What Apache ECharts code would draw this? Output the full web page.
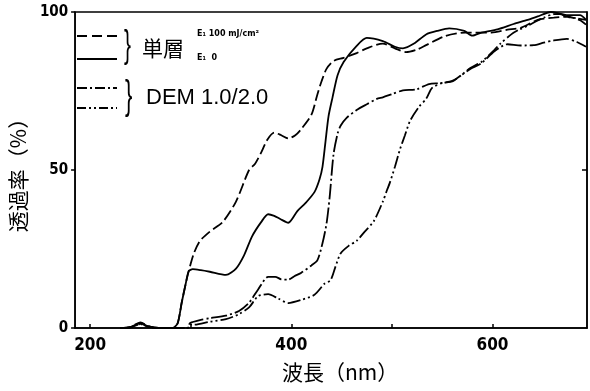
<!DOCTYPE html>
<html>
<head>
<meta charset="utf-8">
<script src="https://cdn.jsdelivr.net/npm/echarts@6/dist/echarts.min.js"></script>
<style>
html,body{margin:0;padding:0;background:#fff;}
#chart{width:590px;height:391px;}
</style>
</head>
<body>
<div id="chart"></div>
<script>
// ---- data (wavelength nm / transmittance %) ----
const xTickValues = [200, 300, 400, 500, 600];
const xLabelValues = [200, 400, 600];
const yTickLabels = [0, 50, 100];

// 単層 E1 100 (dashed)
const nmE100 = [230, 240, 250, 258, 268, 282, 287, 291, 295, 298, 303, 309, 319, 332, 345, 358, 364, 370, 376, 383, 390, 397, 404, 410, 420, 426, 430, 435, 442, 452, 465, 475, 491, 503, 514, 524, 534, 553, 573, 599, 615, 628, 645, 661, 674, 687, 693];
const tE100 = [0, 0.3, 1.8, 0.6, 0, 0, 1.5, 8, 14, 18, 23.5, 27.5, 30.5, 33.6, 40, 50, 52, 55.5, 59.5, 61.8, 61, 60, 61, 63, 67.5, 74, 78, 82, 84.5, 85.5, 87, 88.5, 90, 88.5, 87.3, 88, 89.5, 92.4, 93.5, 93.5, 94.4, 95, 97.5, 98.2, 98.5, 97.4, 96];

// 単層 E1 0 (solid)
const nmE0 = [230, 240, 250, 258, 268, 282, 287, 291, 295, 298, 302, 310, 319, 335, 345, 353, 361, 370, 377, 383, 389, 397, 406, 414, 423, 428, 431, 434, 437, 441, 446, 452, 465, 475, 491, 503, 511, 522, 534, 545, 557, 572, 580, 589, 605, 621, 635, 645, 658, 667, 674, 687, 693];
const tE0 = [0, 0.3, 1.5, 0.5, 0, 0, 1.5, 8, 14, 18, 18.6, 18.3, 17.8, 16.8, 18.8, 23, 29, 33.5, 36, 35.5, 34.5, 33.3, 37, 39.5, 43, 47, 51, 59, 67, 73, 80, 84.2, 89.3, 91.8, 90.8, 89, 88.5, 90, 92.9, 94, 94.8, 94, 92.5, 93.5, 94.5, 96.2, 97.5, 98.6, 100, 99.5, 99, 99, 97.5];

// DEM 1.0 (dash-dot)
const nmDem1 = [230, 240, 250, 258, 268, 297, 299, 302, 310, 319, 335, 348, 358, 367, 377, 384, 390, 397, 403, 410, 420, 426, 431, 435, 438, 442, 446, 449, 455, 465, 475, 485, 491, 500, 511, 524, 537, 548, 560, 569, 578, 589, 602, 615, 628, 641, 651, 661, 674, 684, 693];
const tDem1 = [0, 0.2, 1.2, 0.4, 0, 0, 1.5, 1.9, 2.6, 3.1, 3.9, 5.4, 8, 12.2, 16.2, 16.2, 15.4, 15.3, 16.4, 17.5, 19.8, 21.5, 26.8, 33, 41, 55, 61.5, 64, 66.5, 69, 70.8, 72.5, 73, 74, 75.2, 75.5, 77.2, 77.5, 78.2, 80, 82, 83.8, 87.6, 89.8, 89.4, 89.5, 90.3, 91, 91.5, 90.5, 89];

// DEM 2.0 (dash-dot-dot)
const nmDem2 = [230, 240, 250, 258, 268, 297, 299, 302, 319, 335, 348, 358, 367, 377, 387, 397, 410, 423, 433, 439, 444, 449, 457, 465, 473, 482, 491, 495, 498, 503, 508, 513, 518, 527, 534, 540, 550, 560, 569, 578, 589, 602, 608, 619, 627, 635, 643, 651, 661, 667, 674, 684, 693];
const tDem2 = [0, 0.2, 1.2, 0.4, 0, 0, 1.2, 1, 2, 2.8, 4.4, 6.5, 10.1, 10.7, 9.3, 7.9, 8.9, 10.5, 14, 15.1, 19.5, 23.6, 26, 27.6, 30.5, 33.8, 40, 43.5, 46, 51, 56.5, 61, 65.5, 70, 72.5, 76, 77.5, 78, 80, 82.3, 84.2, 88, 90, 93, 94.5, 95.6, 97, 98.2, 99.3, 99.3, 98.5, 98, 97.5];

function zip(xs, ys) { return xs.map((x, i) => [x, ys[i]]); }

const numFont = "'Liberation Sans Narrow', 'DejaVu Sans Condensed', 'Liberation Sans', sans-serif";
const cjkFont = "'Noto Sans CJK JP', 'Noto Sans CJK SC', sans-serif";

const chart = echarts.init(document.getElementById('chart'), null, {renderer: 'canvas'});

function lineSeries(name, data, type) {
  return {
    name: name,
    type: 'line',
    data: data,
    symbol: 'none',
    smooth: 0.25,
    silent: true,
    lineStyle: {color: '#000', width: 1.8, type: type},
    z: 3
  };
}

const legendX1 = 77, legendX2 = 117;
const option = {
  backgroundColor: '#fff',
  animation: false,
  grid: {left: 66, right: 3, top: 12, bottom: 63, show: true, borderColor: '#000', borderWidth: 1.5, backgroundColor: 'transparent'},
  xAxis: {
    type: 'value', min: 185, max: 694,
    name: '波長（nm）', nameLocation: 'middle', nameGap: 34,
    nameTextStyle: {fontFamily: cjkFont, fontSize: 21, color: '#000', padding: [0, 0, 0, 18]},
    axisLine: {show: true, lineStyle: {color: '#000', width: 1.5}},
    axisTick: {show: true, inside: true, length: 4, customValues: xTickValues, lineStyle: {color: '#000', width: 1.5}},
    axisLabel: {customValues: xLabelValues, color: '#000', fontFamily: numFont, fontWeight: 'bold', fontSize: 17, margin: 9},
    splitLine: {show: false}
  },
  yAxis: [{
    type: 'value', min: 0, max: 100, interval: 50,
    name: '透過率（%）', nameLocation: 'middle', nameGap: 33,
    nameTextStyle: {fontFamily: cjkFont, fontSize: 21, color: '#000'},
    axisLine: {show: true, lineStyle: {color: '#000', width: 1.5}},
    axisTick: {show: true, inside: false, length: 4, customValues: yTickLabels, lineStyle: {color: '#000', width: 1.5}},
    axisLabel: {customValues: yTickLabels, color: '#000', fontFamily: numFont, fontWeight: 'bold', fontSize: 15, margin: 7},
    splitLine: {show: false}
  }, {
    type: 'value', min: 0, max: 100, interval: 50, position: 'right',
    axisLine: {show: true, lineStyle: {color: '#000', width: 1.5}},
    axisTick: {show: true, inside: true, length: 5, customValues: [50], lineStyle: {color: '#000', width: 1.5}},
    axisLabel: {show: false},
    splitLine: {show: false}
  }],
  series: [
    lineSeries('単層 E1 100', zip(nmE100, tE100), [11, 4]),
    lineSeries('単層 E1 0', zip(nmE0, tE0), 'solid'),
    lineSeries('DEM 1.0', zip(nmDem1, tDem1), [16, 3, 2, 3]),
    lineSeries('DEM 2.0', zip(nmDem2, tDem2), [13, 3, 2, 3, 2, 3])
  ],
  graphic: [
    {type: 'line', shape: {x1: legendX1, y1: 36, x2: legendX2, y2: 36}, style: {stroke: '#000', lineWidth: 1.8, lineDash: [10, 5]}},
    {type: 'line', shape: {x1: legendX1, y1: 59, x2: legendX2, y2: 59}, style: {stroke: '#000', lineWidth: 1.8}},
    {type: 'line', shape: {x1: legendX1, y1: 88, x2: legendX2, y2: 88}, style: {stroke: '#000', lineWidth: 1.8, lineDash: [10, 3, 2, 3]}},
    {type: 'line', shape: {x1: legendX1, y1: 108, x2: legendX2, y2: 108}, style: {stroke: '#000', lineWidth: 1.8, lineDash: [9, 3, 2, 3, 2, 3]}},
    {type: 'text', x: 124, y: 47, scaleX: 0.55, style: {text: '}', font: "38px 'Liberation Sans', sans-serif", fill: '#000', align: 'left', verticalAlign: 'middle', textAlign: 'left', textVerticalAlign: 'middle'}},
    {type: 'text', x: 125, y: 98, scaleX: 0.55, style: {text: '}', font: "40px 'Liberation Sans', sans-serif", fill: '#000', align: 'left', verticalAlign: 'middle', textAlign: 'left', textVerticalAlign: 'middle'}},
    {type: 'text', x: 142, y: 48, style: {text: '単層', font: "21px " + cjkFont, fill: '#000', align: 'left', verticalAlign: 'middle', textAlign: 'left', textVerticalAlign: 'middle'}},
    {type: 'text', x: 197, y: 34, style: {text: 'E₁ 100 mJ/cm²', font: "bold 8px 'DejaVu Sans', sans-serif", fill: '#000', align: 'left', verticalAlign: 'middle', textAlign: 'left', textVerticalAlign: 'middle'}},
    {type: 'text', x: 197, y: 58, style: {text: 'E₁  0', font: "bold 8px 'DejaVu Sans', sans-serif", fill: '#000', align: 'left', verticalAlign: 'middle', textAlign: 'left', textVerticalAlign: 'middle'}},
    {type: 'text', x: 146, y: 98, style: {text: 'DEM 1.0/2.0', font: "22px 'Liberation Sans', Arial, sans-serif", fill: '#000', align: 'left', verticalAlign: 'middle', textAlign: 'left', textVerticalAlign: 'middle'}}
  ]
};
chart.setOption(option);
</script>
</body>
</html>
